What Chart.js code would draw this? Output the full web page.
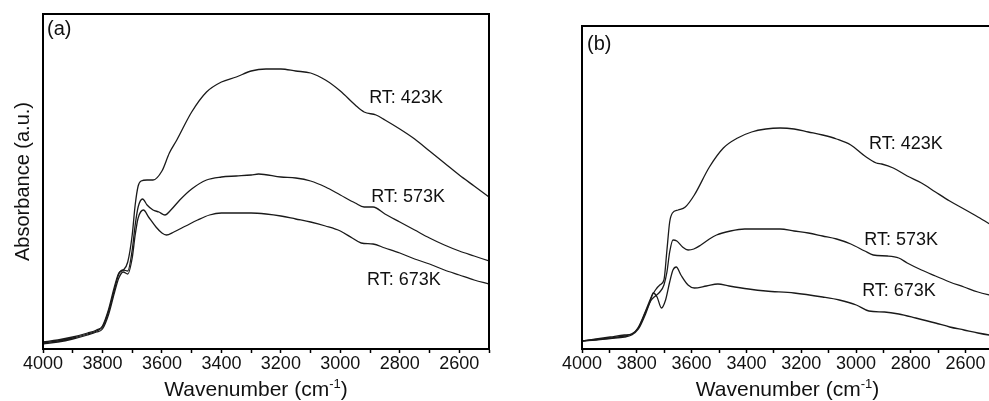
<!DOCTYPE html>
<html>
<head>
<meta charset="utf-8">
<script src="https://cdn.jsdelivr.net/npm/chart.js@4.4.1/dist/chart.umd.min.js"></script>
<style>
  html, body { margin: 0; padding: 0; background: #fff; }
  body { position: relative; width: 989px; height: 401px; overflow: hidden; }
  canvas { position: absolute; top: 0; }
  #panelA { left: 0; }
  #panelB { left: 495px; }
</style>
</head>
<body>
<canvas id="panelA" width="495" height="401"></canvas>
<canvas id="panelB" width="520" height="401"></canvas>
<script>
// Panel (a) - wavenumber (cm-1) and absorbance (a.u.) for each RT curve
const wnA423 = [4000,3950,3900,3850,3820,3800,3780,3760,3745,3730,3715,3700,3690,3680,3670,3650,3630,3600,3575,3550,3500,3450,3400,3350,3300,3250,3200,3150,3100,3050,3000,2950,2920,2880,2850,2800,2750,2700,2650,2600,2550,2500];
const absA423 = [0.07,0.09,0.12,0.16,0.19,0.23,0.39,0.62,0.76,0.79,0.87,1.14,1.44,1.63,1.68,1.69,1.69,1.78,1.96,2.09,2.37,2.57,2.67,2.72,2.78,2.80,2.80,2.78,2.76,2.69,2.58,2.44,2.37,2.34,2.29,2.20,2.10,1.98,1.86,1.74,1.63,1.52];

const wnA573 = [4000,3950,3900,3850,3820,3800,3780,3760,3745,3730,3715,3700,3690,3680,3665,3650,3630,3610,3590,3570,3540,3500,3450,3400,3350,3300,3275,3200,3150,3100,3050,3000,2950,2920,2890,2850,2800,2750,2700,2650,2600,2550,2500];
const absA573 = [0.06,0.08,0.11,0.15,0.18,0.22,0.37,0.59,0.75,0.79,0.78,0.99,1.24,1.42,1.50,1.44,1.39,1.37,1.34,1.39,1.49,1.60,1.69,1.72,1.73,1.74,1.75,1.72,1.71,1.68,1.62,1.54,1.46,1.42,1.42,1.35,1.27,1.19,1.11,1.04,0.98,0.93,0.88];

const wnA673 = [4000,3950,3900,3850,3820,3800,3780,3760,3745,3730,3715,3700,3690,3680,3662,3645,3620,3600,3585,3560,3520,3480,3440,3400,3350,3300,3250,3200,3150,3100,3050,3000,2960,2930,2890,2850,2800,2750,2700,2650,2600,2550,2500];
const absA673 = [0.05,0.07,0.10,0.14,0.17,0.20,0.34,0.56,0.71,0.77,0.75,0.91,1.14,1.31,1.39,1.32,1.22,1.16,1.14,1.17,1.23,1.29,1.34,1.36,1.36,1.36,1.35,1.33,1.30,1.27,1.23,1.18,1.11,1.06,1.05,1.01,0.96,0.90,0.85,0.79,0.74,0.69,0.65];

// Panel (b)
const wnB423 = [4000,3948,3897,3845,3819,3794,3768,3747,3732,3716,3701,3690,3680,3670,3649,3623,3590,3535,3484,3432,3381,3329,3277,3226,3174,3122,3071,3019,2968,2926,2906,2864,2813,2761,2710,2658,2606,2555,2500];
const absB423 = [0.08,0.10,0.12,0.14,0.15,0.22,0.38,0.52,0.59,0.64,0.69,0.99,1.27,1.36,1.39,1.42,1.54,1.82,2.01,2.11,2.17,2.20,2.21,2.20,2.17,2.14,2.10,2.04,1.93,1.86,1.85,1.81,1.73,1.66,1.57,1.48,1.40,1.32,1.23];

const wnB573 = [4000,3948,3897,3845,3819,3794,3768,3747,3732,3716,3701,3690,3680,3668,3654,3633,3613,3592,3566,3535,3509,3458,3406,3329,3277,3226,3174,3122,3071,3019,2968,2937,2885,2844,2813,2761,2710,2658,2606,2555,2500];
const absB573 = [0.08,0.095,0.11,0.13,0.15,0.21,0.37,0.49,0.53,0.57,0.64,0.77,0.97,1.09,1.08,1.02,0.99,1.00,1.04,1.10,1.14,1.18,1.20,1.20,1.20,1.18,1.16,1.13,1.10,1.05,0.98,0.94,0.93,0.91,0.86,0.79,0.73,0.67,0.62,0.57,0.53];

const wnB673 = [4000,3948,3897,3845,3819,3794,3768,3752,3740,3726,3710,3695,3680,3668,3656,3639,3613,3590,3546,3504,3463,3392,3329,3226,3122,3061,2999,2953,2896,2844,2782,2710,2658,2606,2555,2514,2500];
const absB673 = [0.08,0.09,0.105,0.12,0.14,0.20,0.35,0.47,0.56,0.52,0.41,0.49,0.67,0.79,0.82,0.74,0.64,0.61,0.63,0.65,0.63,0.60,0.58,0.56,0.52,0.49,0.44,0.38,0.37,0.35,0.31,0.26,0.22,0.19,0.16,0.14,0.135];

const curveNames = ['RT: 423K', 'RT: 573K', 'RT: 673K'];

const FONT = "'Liberation Sans', Arial, Helvetica, sans-serif";
const INK = '#111';

function toPoints(xs, ys) {
    return xs.map((x, i) => ({ x: x, y: ys[i] }));
}

function makeDataset(label, xs, ys) {
    return {
        label: label,
        data: toPoints(xs, ys),
        borderColor: '#1a1a1a',
        borderWidth: 1.3,
        pointRadius: 0,
        fill: false,
        cubicInterpolationMode: 'monotone'
    };
}

// frame, curve labels, panel letter and the x title with its superscript
const framePlugin = {
    id: 'frame',
    afterDraw(chart, args, opts) {
        const { ctx, chartArea: a, scales } = chart;
        ctx.save();
        ctx.strokeStyle = '#000';
        ctx.lineWidth = 2;
        ctx.strokeRect(a.left, a.top, a.right - a.left, a.bottom - a.top);

        ctx.fillStyle = INK;
        ctx.font = '18px ' + FONT;
        ctx.textAlign = 'center';
        ctx.textBaseline = 'middle';
        opts.notes.forEach(n => {
            ctx.fillText(n.text, scales.x.getPixelForValue(n.x), scales.y.getPixelForValue(n.y));
        });

        ctx.textAlign = 'left';
        ctx.font = '20px ' + FONT;
        ctx.fillText(opts.letter, a.left + opts.letterDx, a.top + opts.letterDy);

        // x axis title: "Wavenumber (cm" + superscript "-1" + ")"
        const main = 'Wavenumber (cm', sup = '-1', tail = ')';
        const big = '21px ' + FONT, small = '13px ' + FONT;
        ctx.font = big;
        const w1 = ctx.measureText(main).width, w3 = ctx.measureText(tail).width;
        ctx.font = small;
        const w2 = ctx.measureText(sup).width;
        let x = (a.left + a.right) / 2 + opts.titleDx - (w1 + w2 + w3) / 2;
        const y = 390;
        ctx.textBaseline = 'middle';
        ctx.font = big;
        ctx.fillText(main, x, y);
        x += w1;
        ctx.font = small;
        ctx.fillText(sup, x, y - 6);
        x += w2;
        ctx.font = big;
        ctx.fillText(tail, x, y);
        ctx.restore();
    }
};

function drawPanel(id, sets, yMax, pad, showYTitle, notes, letter, letterDx, letterDy, titleDx) {
    const ctx = document.getElementById(id).getContext('2d');
    new Chart(ctx, {
        type: 'line',
        data: {
            datasets: sets.map((s, i) => makeDataset(curveNames[i], s[0], s[1]))
        },
        options: {
            responsive: false,
            animation: false,
            layout: { padding: pad },
            plugins: {
                legend: { display: false },
                tooltip: { enabled: false },
                frame: { notes: notes, letter: letter, letterDx: letterDx, letterDy: letterDy, titleDx: titleDx }
            },
            scales: {
                x: {
                    type: 'linear',
                    min: 2500,
                    max: 4000,
                    reverse: true,
                    afterFit: s => { s.height = 52; },
                    grid: {
                        drawOnChartArea: false,
                        drawTicks: true,
                        tickLength: 4,
                        tickColor: '#000',
                        tickWidth: 1.5
                    },
                    border: { display: true, color: '#000', width: 2 },
                    ticks: {
                        stepSize: 100,
                        autoSkip: false,
                        maxRotation: 0,
                        padding: 0,
                        color: INK,
                        font: { family: FONT, size: 18 },
                        callback: v => (v % 200 === 0 ? String(v) : '')
                    },
                    title: { display: false }
                },
                y: {
                    display: showYTitle,
                    min: 0,
                    max: yMax,
                    afterFit: s => { s.width = 43; },
                    grid: { display: false },
                    border: { display: false },
                    ticks: { display: false },
                    title: {
                        display: showYTitle,
                        text: 'Absorbance (a.u.)',
                        color: INK,
                        font: { family: FONT, size: 20, lineHeight: 1 },
                        padding: { top: 13, bottom: 0 }
                    }
                }
            }
        },
        plugins: [framePlugin]
    });
}

drawPanel('panelA',
    [[wnA423, absA423], [wnA573, absA573], [wnA673, absA673]],
    3.35,
    { top: 14, right: 6, bottom: 0, left: 0 },
    true,
    [
        { text: curveNames[0], x: 2779, y: 2.505 },
        { text: curveNames[1], x: 2772, y: 1.52 },
        { text: curveNames[2], x: 2786, y: 0.685 }
    ],
    '(a)', 4, 15.5, -10);

drawPanel('panelB',
    [[wnB423, absB423], [wnB573, absB573], [wnB673, absB673]],
    3.23,
    { top: 26, right: 22, bottom: 0, left: 44 },
    false,
    [
        { text: curveNames[0], x: 2818, y: 2.05 },
        { text: curveNames[1], x: 2835, y: 1.09 },
        { text: curveNames[2], x: 2843, y: 0.575 }
    ],
    '(b)', 5, 18, 0);
</script>
</body>
</html>
